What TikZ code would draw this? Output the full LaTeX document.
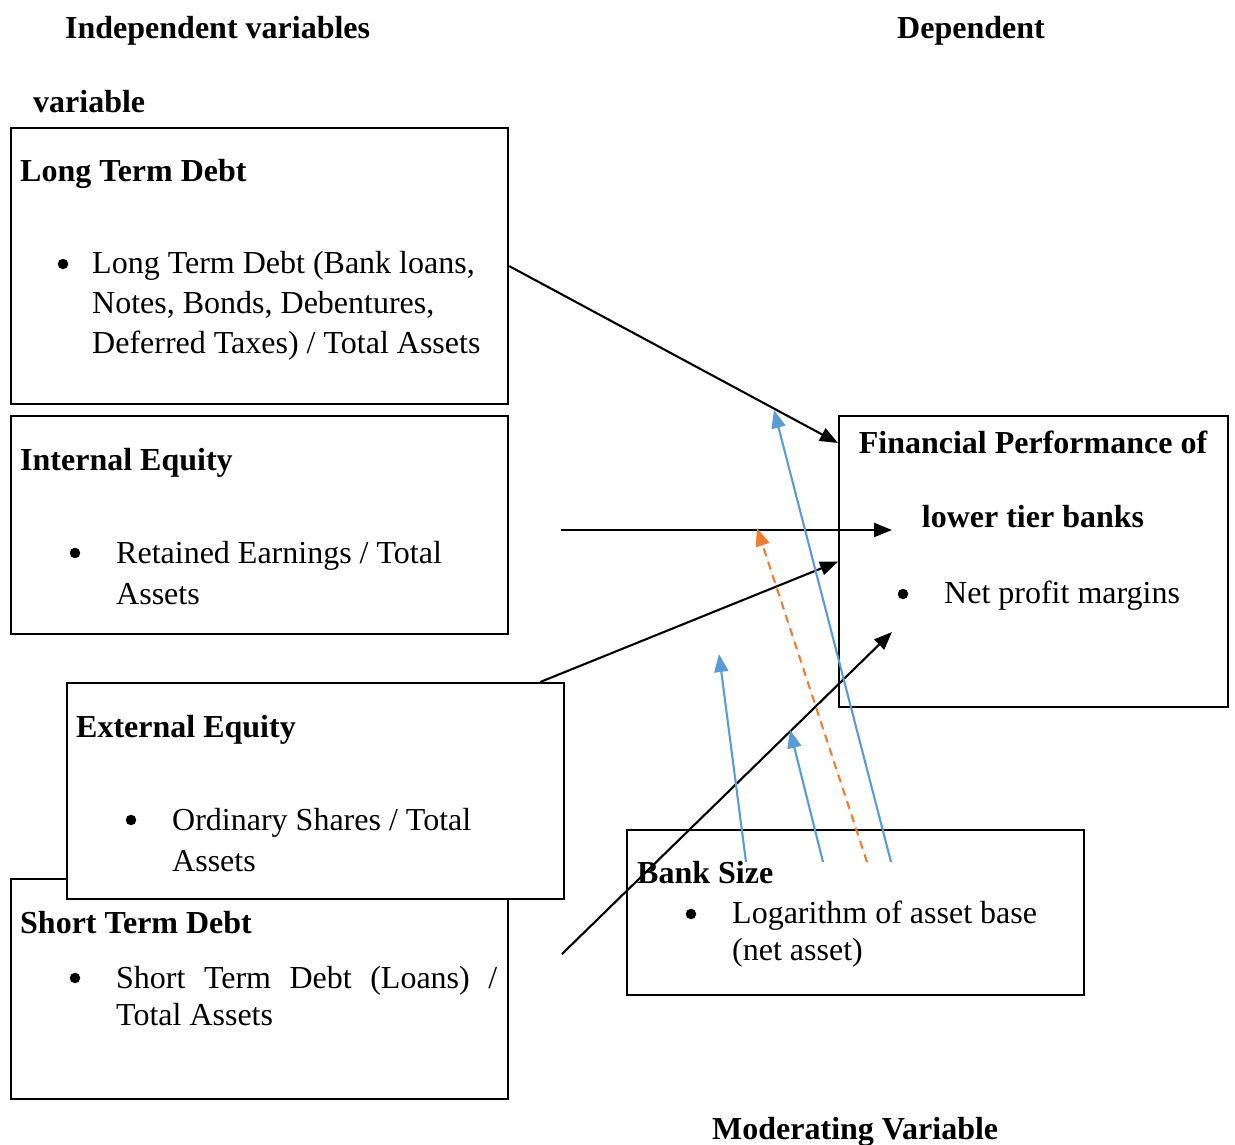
\documentclass[tikz,border=0pt]{standalone}
\usepackage{fontspec}
\setmainfont{Liberation Serif}
\usetikzlibrary{arrows.meta, calc}
\definecolor{modblue}{RGB}{91,155,213}
\definecolor{modorange}{RGB}{237,125,49}

\begin{document}
\begin{tikzpicture}[
    x=1pt, y=-1pt,
    >={Triangle[length=18pt,width=14pt]},
    font=\fontsize{32}{40}\selectfont,
    varbox/.style={draw, rectangle, line width=2.2pt, fill=white, inner sep=0pt, anchor=north west},
    headtext/.style={anchor=base west, inner sep=0pt, font=\fontsize{32}{40}\selectfont\bfseries},
    bodytext/.style={anchor=base west, inner sep=0pt},
    bulletmark/.style={circle, fill, inner sep=0pt, minimum size=10.5pt},
    link/.style={->, line width=2.1pt},
    modlink/.style={->, line width=2.1pt, draw=modblue, fill=modblue},
    modlinkdash/.style={->, line width=2.1pt, draw=modorange, fill=modorange, dash pattern=on 8pt off 6pt}
  ]
  \useasboundingbox (0,0) rectangle (1235,1144);

  % titles
  \node (indep) [headtext] at (65,38) {Independent variables};
  \node (dep) [headtext] at (897,38) {Dependent};
  \node (varword) [headtext] at (33,112) {variable};
  \node (moder) [headtext] at (712,1139) {Moderating Variable};

  % independent variables
  \node (ltd) [varbox, minimum width=497pt, minimum height=276pt] at (10,127) {};
  \node (ltdhead) [headtext] at (20,181) {Long Term Debt};
  \node (ltdbul) [bulletmark] at (63,264) {};
  \node (ltdl1) [bodytext] at (92,273) {Long Term Debt (Bank loans,};
  \node (ltdl2) [bodytext] at (92,313) {Notes, Bonds, Debentures,};
  \node (ltdl3) [bodytext] at (92,353) {Deferred Taxes) / Total Assets};

  \node (ie) [varbox, minimum width=497pt, minimum height=218pt] at (10,415) {};
  \node (iehead) [headtext] at (20,470) {Internal Equity};
  \node (iebul) [bulletmark] at (75,553) {};
  \node (iel1) [bodytext] at (116,563) {Retained Earnings / Total};
  \node (iel2) [bodytext] at (116,604) {Assets};

  \node (std) [varbox, minimum width=497pt, minimum height=220pt] at (10,878) {};
  \node (stdhead) [headtext] at (20,933) {Short Term Debt};
  \node (stdbul) [bulletmark] at (75,978) {};
  \node (stdl1) [bodytext] at (116,988) {\makebox[381pt][s]{Short Term Debt (Loans) /}};
  \node (stdl2) [bodytext] at (116,1025) {Total Assets};

  \node (ee) [varbox, minimum width=497pt, minimum height=216pt] at (66,682) {};
  \node (eehead) [headtext] at (76,737) {External Equity};
  \node (eebul) [bulletmark] at (131,820) {};
  \node (eel1) [bodytext] at (172,830) {Ordinary Shares / Total};
  \node (eel2) [bodytext] at (172,871) {Assets};

  % dependent variable
  \node (fp) [varbox, minimum width=389pt, minimum height=291pt] at (838,415) {};
  \node (fphead1) [anchor=base, inner sep=0pt, font=\fontsize{32}{40}\selectfont\bfseries] at (1033,453) {Financial Performance of};
  \node (fphead2) [anchor=base, inner sep=0pt, font=\fontsize{32}{40}\selectfont\bfseries] at (1033,527) {lower tier banks};
  \node (fpbul) [bulletmark] at (903,594) {};
  \node (fpl1) [bodytext] at (944,603) {Net profit margins};

  % moderating variable
  \node (bs) [varbox, minimum width=457pt, minimum height=165pt] at (626,829) {};
  \node (bshead) [headtext] at (637,883) {Bank Size};
  \node (bsbul) [bulletmark] at (691,914) {};
  \node (bsl1) [bodytext] at (732,923) {Logarithm of asset base};
  \node (bsl2) [bodytext] at (732,960) {(net asset)};

  % free ends
  \coordinate (ieout) at (561,530);
  \coordinate (iein) at (892,530);
  \coordinate (stdout) at (562,954);
  \coordinate (stdin) at (892,632);
  \coordinate (mod1s) at (891,862);
  \coordinate (mod1e) at (774,410);
  \coordinate (mod2s) at (746,862);
  \coordinate (mod2e) at (719,654);
  \coordinate (mod3s) at (823,862);
  \coordinate (mod3e) at (790,730);
  \coordinate (mod4s) at (867,862);
  \coordinate (mod4e) at (757,528);

  \draw[link] (ltd.east) -- ([yshift=-28pt]fp.north west);
  \draw[link] (ieout) -- (iein);
  \draw[link] ([xshift=-25pt]ee.north east) -- (fp.west);
  \draw[link] (stdout) -- (stdin);

  \draw[modlink] (mod1s) -- (mod1e);
  \draw[modlink] (mod2s) -- (mod2e);
  \draw[modlink] (mod3s) -- (mod3e);
  \draw[modlinkdash] (mod4s) -- (mod4e);

\end{tikzpicture}
\end{document}
